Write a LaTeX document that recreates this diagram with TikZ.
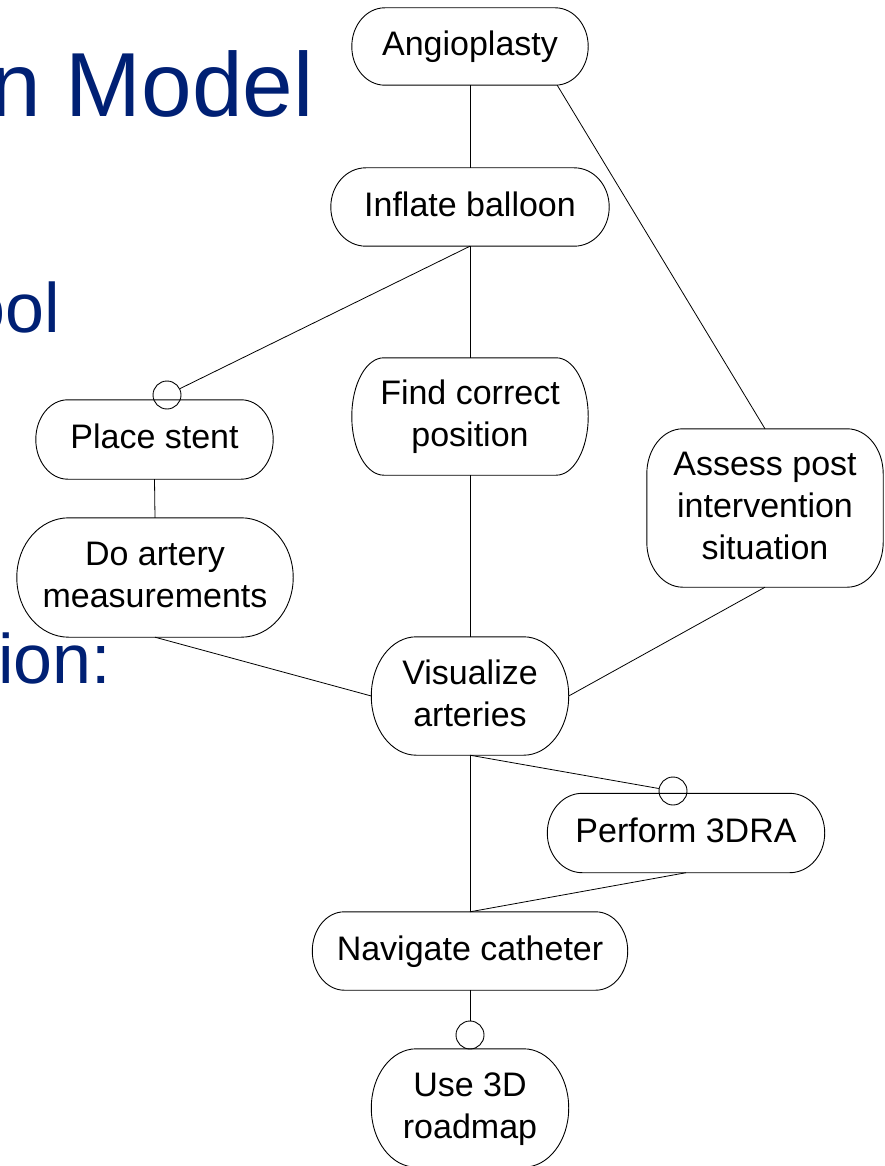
\documentclass[tikz,border=0pt]{standalone}
\usepackage{fontspec}
\setmainfont{Liberation Sans}
\usetikzlibrary{calc}
\definecolor{slideblue}{RGB}{0,32,116}

% outline of a task box: straight edges joined by elliptical corners
\newcommand{\pillpath}[3]{%
  \draw[outline] ([xshift=#2]#1.north west) -- ([xshift=-#2]#1.north east)
    arc[start angle=90, end angle=0, x radius=#2, y radius=#3]
    -- ([yshift=#3]#1.south east)
    arc[start angle=0, end angle=-90, x radius=#2, y radius=#3]
    -- ([xshift=#2]#1.south west)
    arc[start angle=270, end angle=180, x radius=#2, y radius=#3]
    -- ([yshift=-#3]#1.north west)
    arc[start angle=180, end angle=90, x radius=#2, y radius=#3]
    -- cycle;}

\tikzset{
  task/.style={inner sep=0pt, align=center,
    font=\fontsize{34}{42}\selectfont, text height=27pt, text depth=8.5pt},
  twolines/.style={task, text height=69pt},
  threelines/.style={task, text height=111pt},
  outline/.style={draw=black, line width=0.9pt},
  link/.style={draw=black, line width=0.8pt},
  optmark/.style={circle, draw=black, line width=0.9pt, minimum size=28pt, inner sep=0pt},
  slidetitle/.style={inner sep=0pt, text=slideblue, font=\fontsize{91}{100}\selectfont},
  slidebullet/.style={inner sep=0pt, text=slideblue, font=\fontsize{70}{80}\selectfont}
}

\begin{document}
\begin{tikzpicture}[x=1pt, y=-1pt]
\useasboundingbox (0,0) rectangle (884,1166);
\clip (0,0) rectangle (884,1166);
\fill[white] (0,0) rectangle (884,1166);

% slide text behind the diagram
\node[slidetitle, anchor=base east] (t1) at (314,117) {n Model};
\node[slidebullet, anchor=base east] (t2) at (60,332) {ool};
\node[slidebullet, anchor=base east] (t3) at (111.5,683) {ion:};

% tasks
\node[task, minimum width=236pt, minimum height=77pt] (ang) at (470,46.5) {Angioplasty};
\node[task, minimum width=278pt, minimum height=78pt] (infl) at (470,207) {Inflate balloon};
\node[task, minimum width=237pt, minimum height=79pt] (stent) at (154.5,439.5) {Place stent};
\node[twolines, minimum width=236pt, minimum height=117pt] (find) at (470,416.5) {Find correct\\position};
\node[threelines, minimum width=236pt, minimum height=158pt] (assess) at (765,508) {Assess post\\intervention\\situation};
\node[twolines, minimum width=276pt, minimum height=119pt] (meas) at (155,577.5) {Do artery\\measurements};
\node[twolines, minimum width=197pt, minimum height=118pt] (vis) at (470,696) {Visualize\\arteries};
\node[task, minimum width=277pt, minimum height=79pt] (dra) at (686,833) {Perform 3DRA};
\node[task, minimum width=315pt, minimum height=78pt] (nav) at (470,951) {Navigate catheter};
\node[twolines, minimum width=197pt, minimum height=118pt] (road) at (470,1108) {Use 3D\\roadmap};

\pillpath{ang}{33pt}{38.5pt}
\pillpath{infl}{35pt}{39pt}
\pillpath{stent}{32pt}{39.5pt}
\pillpath{find}{32pt}{58.5pt}
\pillpath{assess}{36pt}{45pt}
\pillpath{meas}{52pt}{59.5pt}
\pillpath{vis}{45pt}{59pt}
\pillpath{dra}{35pt}{39.5pt}
\pillpath{nav}{32pt}{39pt}
\pillpath{road}{45pt}{59pt}

% optional-child markers
\node[optmark] (k1) at (167,395) {};
\node[optmark] (k2) at (673,791) {};
\node[optmark] (k3) at (470,1035) {};

% connectors
\draw[link] (ang.south) -- (infl.north);
\draw[link] ([xshift=-31pt]ang.south east) -- (assess.north);
\draw[link] (infl.south) -- (k1);
\draw[link] (infl.south) -- (find.north);
\draw[link] (stent.south) -- (meas.north);
\draw[link] (meas.south) -- (vis.west);
\draw[link] (find.south) -- (vis.north);
\draw[link] (assess.south) -- (vis.east);
\draw[link] (vis.south) -- (k2);
\draw[link] (vis.south) -- (nav.north);
\draw[link] (dra.south) -- (nav.north);
\draw[link] (nav.south) -- (k3);
\end{tikzpicture}
\end{document}
